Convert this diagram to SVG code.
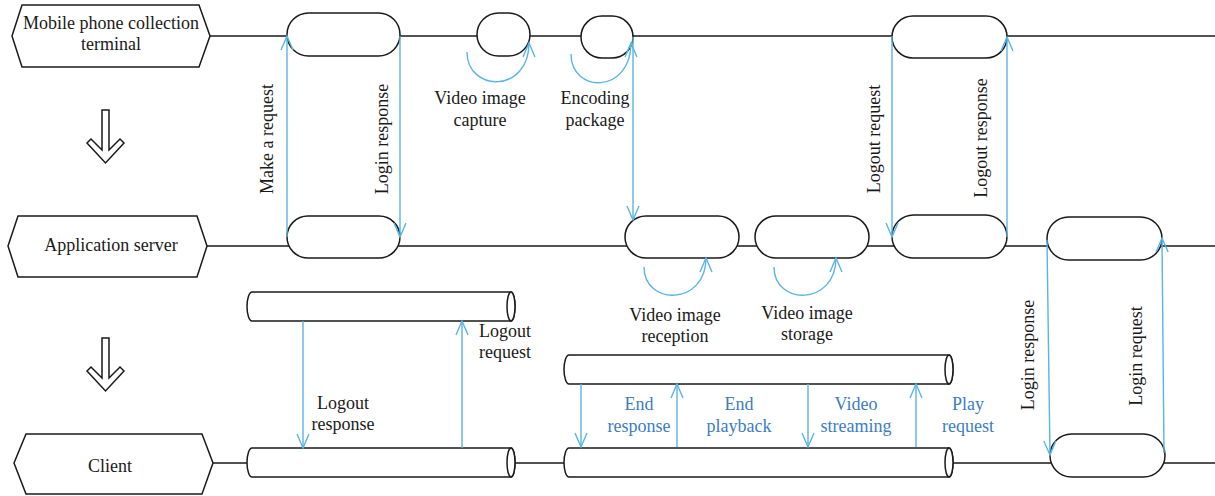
<svg xmlns="http://www.w3.org/2000/svg" width="1215" height="496" viewBox="0 0 1215 496">
<style>
.n{fill:#fff;stroke:#1a1a1a;stroke-width:1.5}
.ln{stroke:#1a1a1a;stroke-width:1.5;fill:none}
.c{stroke:#5AB4E4;stroke-width:1.4;fill:none;marker-end:url(#ah)}
.t{font-family:"Liberation Serif",serif;font-size:18px;fill:#1a1a1a;text-anchor:middle}
.b{fill:#3B7DC4}
</style>
<defs>
<marker id="ah" viewBox="-16 -8 18 16" refX="0" refY="0" markerWidth="18" markerHeight="16" markerUnits="userSpaceOnUse" orient="auto">
<path d="M-14,-6 L0,0 L-14,6" fill="none" stroke="#5AB4E4" stroke-width="1.4"/>
</marker>
</defs>
<rect width="1215" height="496" fill="#fff"/>
<g id="lanes">
<line class="ln" x1="210" y1="36" x2="1215" y2="36"/>
<line class="ln" x1="207" y1="246" x2="1215" y2="246"/>
<line class="ln" x1="213" y1="463" x2="1215" y2="463"/>
</g>
<g id="actor-mobile">
<polygon class="n" points="12,36 22,5 199,5 210,36 199,67 22,67"/>
<text class="t" x="111" y="29">Mobile phone collection<tspan x="111" y="50">terminal</tspan></text>
</g>
<g id="actor-server">
<polygon class="n" points="8,246 18,216 197,216 207,246 197,277 18,277"/>
<text class="t" x="111" y="251">Application server</text>
</g>
<g id="actor-client">
<polygon class="n" points="14,463 26,434 202,434 213,463 202,494 26,494"/>
<text class="t" x="110" y="472">Client</text>
</g>
<g id="flow-arrows">
<polygon class="n" points="102,110 109,110 109,150 120,139 124,143 105.5,163 87,143 91,139 102,150"/>
<polygon class="n" points="102,338 109,338 109,378 120,367 124,371 105.5,391 87,371 91,367 102,378"/>
</g>
<g id="m-login"><rect class="n" x="287" y="13" width="113" height="43" rx="21.5"/></g>
<g id="m-capture"><rect class="n" x="477" y="13" width="53" height="43" rx="21.5"/></g>
<g id="m-encode"><rect class="n" x="581" y="16" width="52" height="42" rx="21"/></g>
<g id="m-logout"><rect class="n" x="892" y="16" width="115" height="42" rx="21"/></g>
<g id="s-login"><rect class="n" x="287" y="216" width="113" height="42" rx="21"/></g>
<g id="s-reception"><rect class="n" x="625" y="216" width="114" height="42" rx="21"/></g>
<g id="s-storage"><rect class="n" x="755" y="216" width="114" height="42" rx="21"/></g>
<g id="s-logout"><rect class="n" x="892" y="215" width="115" height="43" rx="21.5"/></g>
<g id="s-login-client"><rect class="n" x="1047" y="217" width="115" height="43" rx="21.5"/></g>
<g id="c-login"><rect class="n" x="1050" y="434" width="115" height="43" rx="21.5"/></g>
<g id="pipe-logout-top">
<path class="n" d="M252,292 L511,292 A4,14.5 0 0 1 511,321 L252,321 A5,14.5 0 0 1 252,292 Z"/>
<ellipse class="n" cx="511" cy="306.5" rx="4" ry="14.5"/>
</g>
<g id="pipe-logout-bottom">
<path class="n" d="M252,448 L511,448 A4,14.5 0 0 1 511,477 L252,477 A5,14.5 0 0 1 252,448 Z"/>
<ellipse class="n" cx="511" cy="462.5" rx="4" ry="14.5"/>
</g>
<g id="pipe-play-top">
<path class="n" d="M569,355 L949,355 A4,14.5 0 0 1 949,384 L569,384 A5,14.5 0 0 1 569,355 Z"/>
<ellipse class="n" cx="949" cy="369.5" rx="4" ry="14.5"/>
</g>
<g id="pipe-play-bottom">
<path class="n" d="M569,448 L949,448 A4,14.5 0 0 1 949,477 L569,477 A5,14.5 0 0 1 569,448 Z"/>
<ellipse class="n" cx="949" cy="462.5" rx="4" ry="14.5"/>
</g>
<g id="connectors">
<line class="c" x1="287" y1="237" x2="287" y2="36"/>
<line class="c" x1="400" y1="36" x2="400" y2="237"/>
<path class="c" d="M467,52 C467,92 529,94 529,43"/>
<path class="c" d="M571,54 C571,94 631,94 631,43"/>
<line class="c" x1="633" y1="37" x2="633" y2="220"/>
<line class="c" x1="892" y1="36" x2="892" y2="237"/>
<line class="c" x1="1007" y1="237" x2="1007" y2="37"/>
<line class="c" x1="1047" y1="240" x2="1050" y2="455"/>
<line class="c" x1="1164" y1="453" x2="1162" y2="238"/>
<path class="c" d="M644,267 C644,306 706,306 706,258"/>
<path class="c" d="M774,267 C774,306 836,306 836,258"/>
<line class="c" x1="303" y1="321" x2="303" y2="448"/>
<line class="c" x1="462" y1="448" x2="462" y2="321"/>
<line class="c" x1="581" y1="384" x2="581" y2="447"/>
<line class="c" x1="677" y1="447" x2="677" y2="384"/>
<line class="c" x1="808" y1="384" x2="808" y2="447"/>
<line class="c" x1="916" y1="447" x2="916" y2="384"/>
</g>
<g id="labels">
<text class="t" transform="translate(273,139) rotate(-90)">Make a request</text>
<text class="t" transform="translate(388,139) rotate(-90)">Login response</text>
<text class="t" transform="translate(880,139) rotate(-90)">Logout request</text>
<text class="t" transform="translate(987,138) rotate(-90)">Logout response</text>
<text class="t" transform="translate(1034,355) rotate(-90)">Login response</text>
<text class="t" transform="translate(1142,356) rotate(-90)">Login request</text>
<text class="t" x="480" y="104">Video image<tspan x="480" y="126">capture</tspan></text>
<text class="t" x="595" y="104">Encoding<tspan x="595" y="126">package</tspan></text>
<text class="t" x="675" y="321">Video image<tspan x="675" y="342">reception</tspan></text>
<text class="t" x="807" y="319">Video image<tspan x="807" y="340">storage</tspan></text>
<text class="t" x="505" y="337">Logout<tspan x="505" y="358">request</tspan></text>
<text class="t" x="343" y="409">Logout<tspan x="343" y="430">response</tspan></text>
<text class="t b" x="639" y="410">End<tspan x="639" y="432">response</tspan></text>
<text class="t b" x="739" y="410">End<tspan x="739" y="432">playback</tspan></text>
<text class="t b" x="856" y="410">Video<tspan x="856" y="432">streaming</tspan></text>
<text class="t b" x="968" y="410">Play<tspan x="968" y="432">request</tspan></text>
</g>
</svg>
